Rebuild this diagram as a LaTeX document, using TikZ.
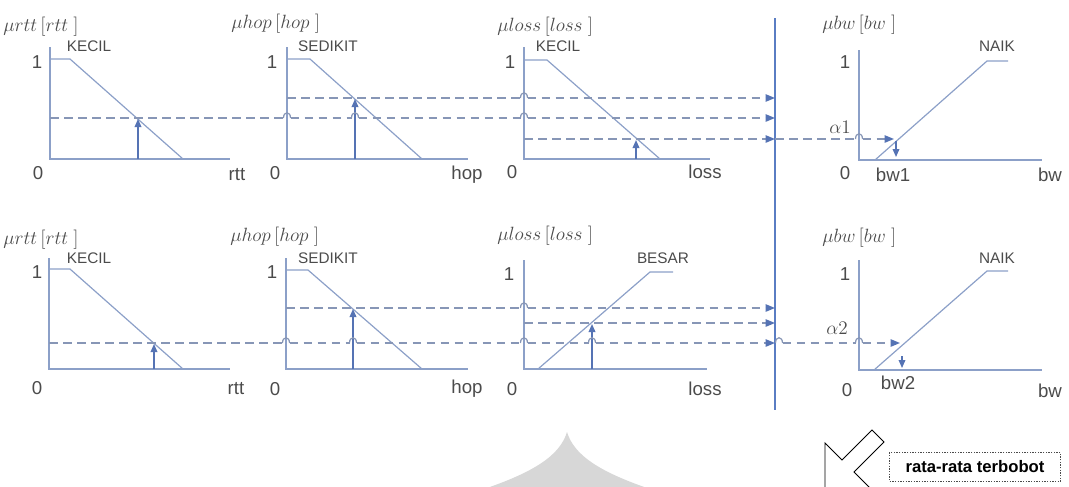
\documentclass[tikz,border=0pt]{standalone}
\usepackage{fontspec}
\setsansfont{Liberation Sans}
\usetikzlibrary{arrows.meta}
\definecolor{axisc}{RGB}{140,160,200}
\definecolor{dashc}{RGB}{135,150,182}
\definecolor{arrc}{RGB}{85,115,180}
\definecolor{sepc}{RGB}{90,125,195}
\definecolor{textc}{RGB}{75,75,75}
\definecolor{wmc}{RGB}{215,215,215}
\newcommand{\hopx}[2]{\draw[hopst] ({#1-3.5},#2) .. controls ({#1-3.5},{#2-7}) and ({#1+3.5},{#2-7}) .. ({#1+3.5},#2);}
\begin{document}
\begin{tikzpicture}[x=0.75pt,y=-0.75pt,
  axis/.style={draw=axisc,line width=1pt},
  mf/.style={draw=axisc,line width=0.9pt},
  dl/.style={draw=dashc,line width=1pt,dash pattern=on 6.5pt off 4pt},
  hopst/.style={draw=dashc,line width=0.9pt},
  tip/.style={-{Triangle[length=7pt,width=5.5pt,color=arrc,fill=arrc]}},
  uparr/.style={draw=arrc,line width=1pt,-{Triangle[length=6pt,width=5pt]}},
  lbl/.style={font=\sffamily\fontsize{14}{14}\selectfont,text=textc,inner sep=0pt},
  mfl/.style={font=\sffamily\fontsize{11.5}{11.5}\selectfont,text=textc,inner sep=0pt},
  ttl/.style={font=\fontsize{15}{15}\selectfont,text=textc,inner sep=0pt,anchor=west}]
\useasboundingbox (0,0) rectangle (1069,486);
\clip (0,0) rectangle (1069,486);

% watermark
\fill[wmc] (481,490) .. controls (535,472) and (560,455) .. (567,432)
  .. controls (574,455) and (599,472) .. (653,490) -- cycle;

% ===================== TOP ROW =====================
% panel rtt
\node[ttl] (t1t) at (3,27) {$\mu rtt\,\bigl[rtt\;\bigr]$};
\draw[axis] (50,47) -- (50,159) -- (230,159);
\draw[mf] (50,59) -- (70,59) -- (183,159);
\node[mfl] (t1k) at (89,46) {KECIL};
\node[lbl] (t11) at (37,62) {1};
\node[lbl] (t10) at (38,173) {0};
\node[lbl] (t1x) at (237,175) {rtt};
\coordinate (t1a) at (138,159);
\coordinate (t1b) at (138,119);
\draw[uparr] (t1a) -- (t1b);

% panel hop
\node[ttl] (t2t) at (231,24) {$\mu hop\,\bigl[hop\;\bigr]$};
\draw[axis] (287,47) -- (287,159) -- (468,159);
\draw[mf] (287,59) -- (310,59) -- (422,159);
\node[mfl] (t2k) at (328,46) {SEDIKIT};
\node[lbl] (t21) at (272,62) {1};
\node[lbl] (t20) at (275,173) {0};
\node[lbl] (t2x) at (467,175) {hop};
\coordinate (t2a) at (355,159);
\coordinate (t2b) at (355,99);
\draw[uparr] (t2a) -- (t2b);

% panel loss
\node[ttl] (t3t) at (497,27) {$\mu loss\,\bigl[loss\;\bigr]$};
\draw[axis] (524,47) -- (524,159) -- (710,159);
\draw[mf] (524,60) -- (547,60) -- (660,159);
\node[mfl] (t3k) at (558,46) {KECIL};
\node[lbl] (t31) at (510,62) {1};
\node[lbl] (t30) at (512,172) {0};
\node[lbl] (t3x) at (705,172) {loss};
\coordinate (t3a) at (636,159);
\coordinate (t3b) at (636,140);
\draw[uparr] (t3a) -- (t3b);

% panel bw
\node[ttl] (t4t) at (822,25) {$\mu bw\,\bigl[bw\;\bigr]$};
\draw[axis] (859,50) -- (859,160) -- (1042,160);
\draw[mf] (875,160) -- (987,61) -- (1008,61);
\node[mfl] (t4k) at (997,46) {NAIK};
\node[lbl] (t41) at (845,62) {1};
\node[lbl] (t40) at (845,173) {0};
\node[lbl] (t4w) at (893,175) {bw1};
\node[lbl] (t4x) at (1050,175) {bw};
\node[font=\fontsize{15}{15}\selectfont,text=textc,inner sep=0pt] (t4al) at (840,127) {$\alpha 1$};
\coordinate (t4a) at (896,141);
\coordinate (t4b) at (896,157);
\draw[uparr] (t4a) -- (t4b);

% separator
\coordinate (sepT) at (775,18);
\coordinate (sepB) at (775,410);
\draw[draw=sepc,line width=1.6pt] (sepT) -- (sepB);

% top dashed lines
\coordinate (e1) at (775,98);
\coordinate (e2) at (775,118);
\coordinate (e3) at (775,139);
% y = 98
\draw[dl] (287,98) -- (520.5,98); \hopx{524}{98}
\draw[dl,tip] (527.5,98) -- (e1);
% y = 118
\draw[dl] (50,118) -- (283.5,118); \hopx{287}{118}
\draw[dl] (290.5,118) -- (351.5,118); \hopx{355}{118}
\draw[dl] (358.5,118) -- (520.5,118); \hopx{524}{118}
\draw[dl,tip] (527.5,118) -- (e2);
% y = 139
\draw[dl,tip] (524,139) -- (e3);
\coordinate (t4c) at (894,139);
\draw[dl] (e3) -- (855.5,139); \hopx{859}{139}
\draw[dl,tip] (862.5,139) -- (t4c);

% ===================== BOTTOM ROW =====================
% panel rtt
\node[ttl] (b1t) at (3,240) {$\mu rtt\,\bigl[rtt\;\bigr]$};
\draw[axis] (49,258) -- (49,369) -- (230,369);
\draw[mf] (49,269) -- (70,269) -- (183,369);
\node[mfl] (b1k) at (89,258) {KECIL};
\node[lbl] (b11) at (37,272) {1};
\node[lbl] (b10) at (37,388) {0};
\node[lbl] (b1x) at (236,389) {rtt};
\coordinate (b1a) at (154,369);
\coordinate (b1b) at (154,344);
\draw[uparr] (b1a) -- (b1b);

% panel hop
\node[ttl] (b2t) at (230,237) {$\mu hop\,\bigl[hop\;\bigr]$};
\draw[axis] (286,258) -- (286,369) -- (468,369);
\draw[mf] (286,270) -- (308,270) -- (422,369);
\node[mfl] (b2k) at (328,258) {SEDIKIT};
\node[lbl] (b21) at (272,272) {1};
\node[lbl] (b20) at (275,389) {0};
\node[lbl] (b2x) at (467,389) {hop};
\coordinate (b2a) at (353,369);
\coordinate (b2b) at (353,309);
\draw[uparr] (b2a) -- (b2b);

% panel loss
\node[ttl] (b3t) at (497,236) {$\mu loss\,\bigl[loss\;\bigr]$};
\draw[axis] (524,260) -- (524,369) -- (707,369);
\draw[mf] (538,369) -- (650,272) -- (673,272);
\node[mfl] (b3k) at (663,258) {BESAR};
\node[lbl] (b31) at (509,274) {1};
\node[lbl] (b30) at (512,389) {0};
\node[lbl] (b3x) at (705,389) {loss};
\coordinate (b3a) at (592,369);
\coordinate (b3b) at (592,324);
\draw[uparr] (b3a) -- (b3b);

% panel bw
\node[ttl] (b4t) at (822,238) {$\mu bw\,\bigl[bw\;\bigr]$};
\draw[axis] (859,260) -- (859,370) -- (1042,370);
\draw[mf] (874,370) -- (987,271) -- (1008,271);
\node[mfl] (b4k) at (997,258) {NAIK};
\node[lbl] (b41) at (845,274) {1};
\node[lbl] (b40) at (847,390) {0};
\node[lbl] (b4w) at (898,383) {bw2};
\node[lbl] (b4x) at (1050,391) {bw};
\node[font=\fontsize{15}{15}\selectfont,text=textc,inner sep=0pt] (b4al) at (837,328) {$\alpha 2$};
\coordinate (b4a) at (902,356);
\coordinate (b4b) at (902,368);
\draw[uparr] (b4a) -- (b4b);

% bottom dashed lines
\coordinate (f1) at (775,308);
\coordinate (f2) at (775,323);
\coordinate (f3) at (775,343);
% y = 308
\draw[dl] (286,308) -- (520.5,308); \hopx{524}{308}
\draw[dl,tip] (527.5,308) -- (f1);
% y = 323
\draw[dl,tip] (524,323) -- (f2);
% y = 343
\draw[dl] (49,343) -- (282.5,343); \hopx{286}{343}
\draw[dl] (289.5,343) -- (349.5,343); \hopx{353}{343}
\draw[dl] (356.5,343) -- (520.5,343); \hopx{524}{343}
\draw[dl] (527.5,343) -- (588.5,343); \hopx{592}{343}
\draw[dl,tip] (595.5,343) -- (f3);
\coordinate (b4c) at (900,343);
\hopx{779}{343}
\draw[dl] (782.5,343) -- (855.5,343); \hopx{859}{343}
\draw[dl,tip] (862.5,343) -- (b4c);

% ===================== bottom-right =====================
\draw[black,line width=0.7pt,fill=white,line join=miter]
  (825,443) -- (842,460) -- (872,430) -- (884,442) -- (854,472) -- (871,489) -- (825,489) -- cycle;
\node[draw=textc,dash pattern=on 1pt off 1pt,line width=0.7pt,
  font=\sffamily\bfseries\fontsize{12.5}{12.5}\selectfont,text=black,
  minimum width=128pt,minimum height=22pt,inner sep=0pt] (rt) at (975,467) {rata-rata terbobot};
\end{tikzpicture}
\end{document}
